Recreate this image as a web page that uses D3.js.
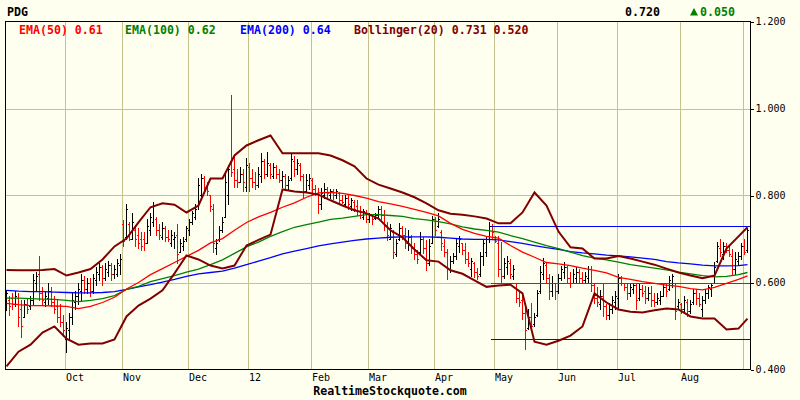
<!DOCTYPE html>
<meta charset="utf-8">
<script src="https://cdn.jsdelivr.net/npm/d3@7"></script>
<style>
    body { margin: 0; background: #fffff0; }
    text { font-family: "DejaVu Sans Mono", monospace; }
    .bar { fill: none; stroke-width: 1; shape-rendering: crispEdges; }
    .grid { stroke: #c4c48c; stroke-width: 1; shape-rendering: crispEdges; }
</style>
<body>
<script>

    // daily OHLC, one entry per trading day (index 0 = mid Sep, 247 = end Aug)
    var opens = [
        .545,.56,.565,.55,.565,.54,.52,.55,.545,.56,
        .60,.62,.575,.555,.565,.58,.555,.545,.52,.51,
        .47,.49,.52,.555,.57,.58,.605,.585,.60,.58,
        .605,.62,.635,.61,.625,.64,.62,.62,.64,.735,
        .705,.735,.70,.72,.71,.70,.70,.69,.72,.74,
        .745,.72,.705,.725,.705,.69,.70,.71,.67,.685,
        .70,.72,.74,.75,.775,.80,.84,.82,.80,.77,
        .68,.70,.72,.75,.80,.88,.86,.835,.83,.85,
        .82,.865,.84,.83,.825,.845,.88,.85,.87,.845,
        .865,.85,.835,.845,.825,.84,.88,.86,.87,.845,
        .81,.825,.835,.815,.805,.78,.80,.815,.80,.81,
        .80,.805,.79,.78,.795,.775,.785,.775,.765,.75,
        .76,.745,.755,.748,.755,.77,.755,.73,.70,.715,
        .665,.70,.725,.71,.69,.705,.68,.665,.67,.70,
        .68,.645,.69,.745,.73,.715,.685,.67,.63,.65,
        .66,.685,.69,.675,.655,.63,.645,.625,.62,.66,
        .67,.70,.73,.70,.69,.63,.615,.635,.645,.615,
        .60,.565,.56,.53,.495,.52,.505,.525,.58,.62,
        .64,.61,.58,.60,.58,.61,.625,.635,.61,.60,
        .61,.625,.61,.605,.61,.63,.595,.565,.55,.57,
        .545,.525,.54,.555,.565,.61,.60,.59,.575,.585,
        .595,.565,.585,.58,.565,.575,.56,.555,.56,.57,
        .59,.585,.60,.60,.545,.55,.54,.555,.535,.555,
        .575,.565,.54,.56,.575,.585,.60,.65,.68,.665,
        .685,.675,.66,.63,.65,.66,.685,.675
    ]
    var highs = [
        .582,.57,.575,.58,.575,.56,.56,.565,.57,.62,
        .625,.66,.59,.58,.60,.59,.57,.56,.55,.525,
        .51,.53,.575,.58,.60,.62,.615,.61,.61,.62,
        .635,.645,.64,.645,.65,.645,.64,.655,.665,.743,
        .78,.74,.76,.73,.725,.715,.715,.745,.76,.785,
        .75,.735,.74,.73,.72,.72,.715,.735,.70,.705,
        .73,.745,.765,.78,.84,.85,.845,.83,.80,.78,
        .70,.73,.75,.85,.87,1.03,.89,.86,.865,.86,
        .887,.875,.86,.855,.865,.897,.885,.90,.875,.875,
        .87,.862,.857,.85,.845,.897,.89,.885,.875,.85,
        .85,.85,.84,.825,.818,.818,.828,.82,.816,.815,
        .816,.807,.80,.80,.80,.795,.79,.789,.775,.77,
        .766,.76,.758,.76,.777,.775,.766,.74,.735,.72,
        .70,.736,.73,.726,.72,.71,.69,.675,.715,.705,
        .697,.70,.754,.75,.759,.72,.70,.678,.66,.667,
        .70,.708,.69,.69,.67,.657,.646,.634,.67,.70,
        .708,.738,.735,.708,.708,.692,.657,.66,.655,.64,
        .60,.58,.577,.547,.54,.554,.531,.582,.639,.657,
        .645,.62,.616,.60,.62,.639,.646,.639,.625,.632,
        .635,.63,.623,.625,.639,.639,.60,.59,.582,.60,
        .55,.554,.57,.58,.62,.616,.60,.60,.60,.60,
        .60,.598,.595,.593,.59,.593,.577,.575,.58,.60,
        .60,.616,.62,.60,.563,.554,.57,.563,.56,.586,
        .586,.575,.57,.586,.595,.60,.646,.692,.70,.692,
        .69,.685,.678,.669,.67,.69,.70,.726
    ]
    var lows = [
        .536,.525,.54,.545,.50,.474,.52,.53,.54,.55,
        .58,.56,.55,.545,.55,.545,.53,.51,.50,.478,
        .44,.47,.505,.54,.55,.56,.575,.575,.57,.575,
        .595,.605,.595,.605,.615,.605,.61,.615,.62,.685,
        .70,.697,.70,.685,.68,.675,.675,.69,.71,.73,
        .71,.70,.70,.695,.695,.685,.68,.645,.67,.675,
        .695,.71,.735,.745,.77,.795,.81,.80,.765,.67,
        .665,.695,.715,.75,.78,.845,.82,.82,.83,.81,
        .81,.81,.82,.815,.82,.83,.84,.845,.84,.84,
        .84,.83,.82,.818,.815,.835,.845,.85,.835,.795,
        .807,.815,.80,.80,.759,.77,.795,.795,.795,.793,
        .795,.782,.782,.775,.77,.766,.765,.755,.749,.745,
        .738,.738,.735,.745,.75,.745,.72,.697,.70,.657,
        .66,.697,.70,.68,.675,.667,.655,.644,.667,.667,
        .628,.64,.69,.71,.727,.674,.66,.609,.625,.644,
        .655,.67,.665,.645,.639,.616,.612,.609,.616,.64,
        .662,.692,.70,.692,.616,.60,.611,.62,.61,.609,
        .555,.547,.517,.448,.494,.494,.50,.524,.577,.609,
        .60,.563,.57,.563,.575,.605,.611,.60,.589,.60,
        .60,.60,.60,.60,.60,.58,.554,.547,.54,.524,
        .517,.517,.531,.54,.54,.595,.582,.563,.57,.575,
        .54,.56,.57,.554,.56,.547,.547,.55,.55,.57,
        .57,.582,.589,.517,.54,.531,.531,.524,.53,.55,
        .55,.547,.524,.554,.565,.57,.60,.646,.662,.655,
        .669,.66,.62,.62,.64,.655,.665,.67
    ]
    var closes = [
        .575,.545,.55,.57,.52,.50,.55,.54,.56,.605,
        .615,.575,.56,.57,.58,.555,.54,.52,.51,.49,
        .495,.52,.56,.57,.585,.605,.585,.60,.58,.61,
        .625,.635,.61,.63,.64,.62,.63,.645,.655,.695,
        .77,.70,.74,.70,.69,.685,.69,.73,.75,.775,
        .72,.71,.725,.705,.70,.71,.705,.665,.69,.695,
        .725,.74,.76,.77,.825,.84,.82,.81,.775,.69,
        .69,.72,.74,.83,.86,.855,.835,.83,.85,.83,
        .87,.84,.83,.825,.85,.88,.85,.875,.85,.865,
        .85,.835,.845,.825,.835,.885,.86,.875,.845,.81,
        .835,.84,.815,.805,.78,.805,.815,.805,.81,.80,
        .81,.79,.785,.795,.78,.79,.77,.765,.755,.765,
        .745,.755,.745,.755,.77,.755,.73,.71,.725,.67,
        .69,.725,.71,.69,.705,.68,.665,.655,.70,.68,
        .645,.685,.745,.72,.745,.69,.67,.63,.65,.66,
        .69,.70,.675,.655,.645,.65,.625,.615,.66,.69,
        .70,.73,.715,.695,.63,.615,.645,.65,.62,.63,
        .565,.555,.53,.49,.52,.50,.52,.575,.625,.645,
        .61,.58,.60,.58,.61,.63,.635,.61,.60,.62,
        .625,.61,.605,.615,.63,.595,.565,.555,.57,.545,
        .525,.54,.56,.57,.61,.60,.59,.575,.59,.595,
        .56,.585,.575,.565,.575,.56,.555,.565,.57,.59,
        .58,.605,.615,.535,.555,.54,.56,.535,.55,.575,
        .565,.55,.56,.575,.59,.595,.635,.685,.67,.685,
        .675,.665,.63,.655,.66,.685,.67,.72
    ]

    // indicator lines every 4th day (+ last day)
    var ema50 = [
        .552,.549,.547,.547,.546,.545,.540,.545,.554,.566,
        .585,.600,.618,.632,.646,.660,.674,.691,.701,.720,
        .738,.751,.761,.773,.783,.796,.806,.807,.805,.800,
        .794,.786,.781,.775,.768,.761,.753,.736,.722,.713,
        .706,.702,.685,.670,.658,.646,.643,.639,.633,.628,
        .622,.612,.607,.602,.598,.594,.591,.586,.583,.589,
        .598,.607,.615
    ]
    var ema100 = [
        .564,.564,.563,.562,.561,.559,.556,.559,.563,.570,
        .584,.591,.602,.609,.616,.624,.631,.641,.652,.667,
        .682,.693,.706,.717,.727,.733,.739,.745,.748,.752,
        .756,.756,.754,.752,.747,.744,.740,.735,.728,.723,
        .720,.716,.708,.701,.693,.685,.678,.670,.662,.656,
        .652,.647,.641,.637,.633,.629,.624,.620,.616,.613,
        .614,.618,.623
    ]
    var ema200 = [
        .582,.580,.579,.579,.578,.577,.576,.576,.577,.579,
        .584,.590,.595,.601,.607,.614,.620,.623,.626,.633,
        .641,.649,.657,.666,.672,.678,.684,.689,.693,.697,
        .700,.702,.704,.705,.705,.705,.704,.702,.700,.699,
        .699,.698,.694,.690,.685,.680,.676,.671,.668,.666,
        .663,.661,.659,.656,.653,.648,.645,.643,.640,.638,
        .638,.639,.641
    ]
    var bbUpper = [
        .629,.628,.628,.629,.631,.616,.623,.631,.653,.683,
        .701,.738,.773,.782,.779,.761,.777,.839,.839,.892,
        .915,.927,.938,.897,.897,.897,.897,.892,.881,.867,
        .839,.825,.816,.807,.796,.782,.766,.758,.756,.752,
        .747,.736,.736,.761,.807,.777,.717,.681,.678,.655,
        .655,.661,.655,.648,.641,.632,.623,.616,.610,.616,
        .678,.706,.727
    ]
    var bbLower = [
        .407,.441,.457,.485,.499,.471,.457,.460,.460,.469,
        .522,.547,.563,.582,.621,.662,.653,.639,.632,.639,
        .685,.698,.710,.814,.809,.807,.802,.789,.777,.766,
        .759,.747,.720,.704,.676,.651,.648,.628,.620,.605,
        .590,.593,.595,.575,.464,.457,.466,.478,.499,.575,
        .554,.538,.533,.531,.536,.540,.538,.522,.517,.517,
        .492,.494,.517
    ]
    var sampleDays = d3.range(0, 245, 4).concat([247])

    // high / mid / low lines since the start of May
    var levelStart = 162
    var levels = [0.730, 0.600, 0.470]
    var levelColors = ["#0000ff", "#ff0000", "#0000ff"]

    var monthDays = [20, 39, 61, 81, 102, 121, 143, 163, 184, 204, 225, 246]
    var monthLabels = ["Oct", "Nov", "Dec", "12", "Feb", "Mar", "Apr", "May", "Jun", "Jul", "Aug", ""]
    var yTicks = [0.4, 0.6, 0.8, 1.0, 1.2]

    var legendNames = ["EMA(50)", "EMA(100)", "EMA(200)", "Bollinger(20)"]
    var legendValues = ["0.61", "0.62", "0.64", "0.731 0.520"]
    var legendColors = ["#ff0000", "#008000", "#0000ff", "#800000"]
    var legendX = [19, 125, 240, 354]

    var symbol = "PDG"
    var lastPrice = "0.720"
    var change = "0.050"

    var W = 800, H = 400
    var pl = 5.5, pr = 750.5, pt = 21.5, pb = 369.5

    var x = d3.scaleLinear().domain([0, closes.length - 1]).range([6.5, 6.5 + 3 * (closes.length - 1)])
    var y = d3.scaleLinear().domain([0.4, 1.2]).range([pb, pt])
    var py = (v) => Math.round(y(v)) + 0.5

    var svg = d3.select("body").append("svg").attr("width", W).attr("height", H)
    svg.append("rect").attr("width", W).attr("height", H).attr("fill", "#fffff0")

    // grid
    svg.append("g").selectAll("line").data(monthDays).enter().append("line").attr("class", "grid")
        .attr("x1", (d) => x(d) - 1).attr("x2", (d) => x(d) - 1).attr("y1", pt).attr("y2", pb)
    svg.append("g").selectAll("line").data(yTicks.slice(1, -1)).enter().append("line").attr("class", "grid")
        .attr("x1", pl).attr("x2", pr).attr("y1", (d) => py(d)).attr("y2", (d) => py(d))

    // OHLC bars
    svg.append("g").selectAll("path").data(closes).enter().append("path").attr("class", "bar")
        .attr("d", (c, i) => {
            var cx = x(i)
            return "M" + (cx - 1.5) + "," + py(opens[i]) + "H" + cx +
                "M" + cx + "," + (py(highs[i]) - 0.5) + "V" + (py(lows[i]) + 0.5) +
                "M" + cx + "," + py(c) + "H" + (cx + 1.5)
        })
        .style("stroke", (c, i) => c < opens[i] ? "#ff0000" : "#000000")

    // level lines
    svg.append("g").selectAll("line").data(levels).enter().append("line")
        .attr("x1", x(levelStart) - 1.5).attr("x2", pr).attr("y1", (d) => py(d)).attr("y2", (d) => py(d))
        .style("stroke", (d, i) => levelColors[i]).style("stroke-width", 1).style("shape-rendering", "crispEdges")

    var line = d3.line().x((d, i) => x(sampleDays[i])).y((d) => y(d))
    var series = [
        {values: ema200, color: "#0000ff", width: 1.3},
        {values: ema100, color: "#008000", width: 1.3},
        {values: ema50, color: "#ff0000", width: 1.3},
        {values: bbUpper, color: "#800000", width: 2},
        {values: bbLower, color: "#800000", width: 2}
    ]
    series.forEach((s) => {
        svg.append("path").datum(s.values).attr("d", line)
            .style("fill", "none").style("stroke", s.color).style("stroke-width", s.width)
    })

    // frame
    svg.append("rect").attr("x", pl).attr("y", pt).attr("width", pr - pl).attr("height", pb - pt)
        .style("fill", "none").style("stroke", "#000").style("shape-rendering", "crispEdges")

    // axes
    var yAxis = d3.axisRight(y).tickValues(yTicks).tickFormat(d3.format(".3f")).tickSize(3).tickPadding(2)
    var gy = svg.append("g").attr("transform", "translate(" + pr + ",0)").call(yAxis)
    gy.select(".domain").remove()
    gy.selectAll("text").style("font-family", "DejaVu Sans Mono").style("font-size", "10px").style("fill", "#000")
    gy.selectAll("line").style("stroke", "#000").style("shape-rendering", "crispEdges")

    var xAxis = d3.axisBottom(x).tickValues(monthDays).tickFormat((d, i) => monthLabels[i]).tickSize(0).tickPadding(4)
    var gx = svg.append("g").attr("transform", "translate(0," + pb + ")").call(xAxis)
    gx.select(".domain").remove()
    gx.selectAll("text").attr("x", -1).style("text-anchor", "start")
        .style("font-family", "DejaVu Sans Mono").style("font-size", "10px").style("fill", "#000")

    // header
    svg.append("text").attr("x", 7).attr("y", 15.5).text(symbol)
        .style("font-size", "11.6px").style("font-weight", "bold")
    svg.append("text").attr("x", 625).attr("y", 15.5).text(lastPrice)
        .style("font-size", "11.6px").style("font-weight", "bold")
    svg.append("path").attr("d", "M690,15.5L698,15.5L694,8Z").style("fill", "#008000")
    svg.append("text").attr("x", 700).attr("y", 15.5).text(change)
        .style("font-size", "11.6px").style("font-weight", "bold").style("fill", "#008000")

    legendNames.forEach((name, i) => {
        svg.append("text").attr("x", legendX[i]).attr("y", 34).text(name + " " + legendValues[i])
            .style("font-size", "11.6px").style("font-weight", "bold").style("fill", legendColors[i])
    })

    svg.append("text").attr("x", 390).attr("y", 395).text("RealtimeStockquote.com")
        .style("text-anchor", "middle").style("font-size", "11.6px").style("font-weight", "bold")

</script>
</body>
</html>
